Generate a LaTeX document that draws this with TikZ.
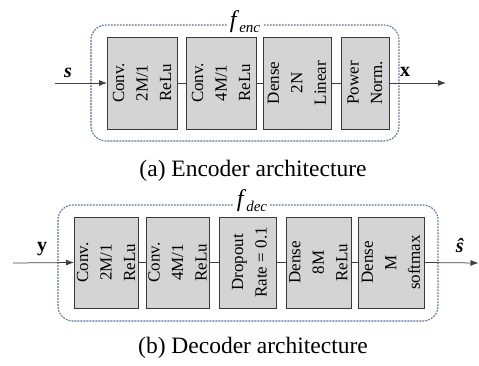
\documentclass[tikz,border=0pt]{standalone}
\usepackage{fontspec}
\setmainfont{Liberation Serif}
\usetikzlibrary{arrows.meta}
\definecolor{boxfill}{HTML}{D4D4D4}
\definecolor{boxline}{HTML}{3A3A3A}
\definecolor{frameblue}{HTML}{55709A}
\begin{document}
\begin{tikzpicture}[x=1pt,y=-1pt,
  blk/.style={draw=boxline, fill=boxfill, line width=0.9pt, inner sep=0pt, outer sep=0pt},
  btxt/.style={rotate=90, align=center, inner sep=0pt, font=\fontsize{17}{23.5}\selectfont},
  dframe/.style={draw=frameblue, line width=1.1pt, dash pattern=on 1.8pt off 1.2pt, rounded corners=15pt},
  conn/.style={draw=black!75, line width=0.75pt},
  arr/.style={conn, -{Latex[length=8pt,width=6pt]}},
  lbl/.style={inner sep=0pt, font=\fontsize{20}{22}\selectfont},
  captxt/.style={inner sep=0pt, anchor=base, font=\fontsize{23.5}{26}\selectfont},
  ftitle/.style={fill=white, inner xsep=3pt, inner ysep=1pt, font=\fontsize{24}{26}\selectfont}]
\useasboundingbox (0,0) rectangle (479,366);
% ---------- Encoder ----------
\draw[dframe] (91,25) rectangle (399,141);
\node[ftitle] (fenc) at (245,22) {\textit{f}\raisebox{-5pt}{\fontsize{15}{16}\selectfont\textit{enc}}};
\node[blk, minimum width=70pt, minimum height=92pt] (e1) at (142,83) {};
\node[blk, minimum width=70pt, minimum height=92pt] (e2) at (221,83) {};
\node[blk, minimum width=68pt, minimum height=92pt] (e3) at (297,83) {};
\node[blk, minimum width=48pt, minimum height=92pt] (e4) at (365,83) {};
\node[btxt] (e1t) at (e1.center) {Conv.\\2M/1\\ReLu};
\node[btxt] (e2t) at (e2.center) {Conv.\\4M/1\\ReLu};
\node[btxt] (e3t) at (e3.center) {Dense\\2N\\Linear};
\node[btxt] (e4t) at (e4.center) {Power\\Norm.};
\coordinate (ein) at (55,83);
\coordinate (eout) at (446,83);
\draw[arr] (ein) -- (e1.west);
\draw[conn] (e1.east) -- (e2.west);
\draw[conn] (e2.east) -- (e3.west);
\draw[conn] (e3.east) -- (e4.west);
\draw[arr] (e4.east) -- (eout);
\node[lbl] (s) at (68,73) {\textbf{\textit{s}}};
\node[lbl] (x) at (405,72) {\textbf{x}};
\node[captxt] (capa) at (253,177) {(a) Encoder architecture};
% ---------- Decoder ----------
\draw[dframe] (58,205) rectangle (438,321);
\node[ftitle] (fdec) at (252,201) {\textit{f}\raisebox{-5pt}{\fontsize{15}{16}\selectfont\textit{dec}}};
\node[blk, minimum width=64pt, minimum height=91pt] (d1) at (106,262.5) {};
\node[blk, minimum width=63pt, minimum height=91pt] (d2) at (177.5,262.5) {};
\node[blk, minimum width=57pt, minimum height=91pt] (d3) at (247.5,262.5) {};
\node[blk, minimum width=65pt, minimum height=91pt] (d4) at (318.5,262.5) {};
\node[blk, minimum width=66pt, minimum height=91pt] (d5) at (391,262.5) {};
\node[btxt] (d1t) at (d1.center) {Conv.\\2M/1\\ReLu};
\node[btxt] (d2t) at (d2.center) {Conv.\\4M/1\\ReLu};
\node[btxt] (d3t) at ([xshift=2pt]d3.center) {Dropout\\Rate = 0.1};
\node[btxt] (d4t) at (d4.center) {Dense\\8M\\ReLu};
\node[btxt] (d5t) at (d5.center) {Dense\\M\\softmax};
\coordinate (din) at (13,263);
\coordinate (dout) at (478.5,263);
\draw[arr] (din) -- (d1.west);
\draw[conn] (d1.east) -- (d2.west);
\draw[conn] (d2.east) -- (d3.west);
\draw[conn] (d3.east) -- (d4.west);
\draw[conn] (d4.east) -- (d5.west);
\draw[arr] (d5.east) -- (dout);
\node[lbl] (y) at (42,249) {\textbf{y}};
\node[lbl] (shat) at (460,246) {\textbf{\textit{ŝ}}};
\node[captxt] (capb) at (253,353) {(b) Decoder architecture};
\end{tikzpicture}
\end{document}
